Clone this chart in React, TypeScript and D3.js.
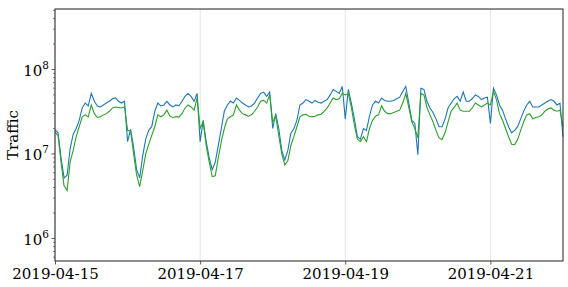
import React, { useEffect, useRef } from "react";
import * as d3 from "d3";

// hourly samples, 2019-04-15 00:00 .. 2019-04-22 00:00 (UTC), values in millions
const startTime = Date.UTC(2019, 3, 15, 0, 0);

const blueSeries = [
  // 04-15
  19.3, 17.8, 9, 5.2, 5.6, 11.5, 17, 20, 25, 35, 40, 37, 52, 42, 37, 36, 38, 40, 42, 45, 46, 42, 40, 42,
  // 04-16
  14, 19.5, 12, 6.5, 5.2, 9.5, 15, 19, 21, 32, 40, 37, 38, 42, 38, 36, 38, 37, 42, 48, 52, 48, 42, 52,
  // 04-17
  14, 25, 14, 9, 6.5, 8, 12.6, 20, 32, 38, 42, 40, 46, 43, 40, 38, 36, 37, 40, 46, 52, 54, 48, 54,
  // 04-18
  20, 30, 20, 11, 8.5, 11, 17.5, 20, 25, 38, 40, 44, 42, 40, 43, 41, 40, 42, 44, 50, 58, 55, 52, 63,
  // 04-19
  26, 58, 40, 26, 16, 15, 20, 19, 28, 38, 42, 40, 46, 43, 42, 42, 43, 45, 47, 55, 63, 40, 25, 23,
  // 04-20
  9.8, 60, 58, 42, 35, 31, 26, 21, 21, 26, 35, 40, 45, 48, 42, 54, 42, 42, 45, 50, 48, 44, 46, 47,
  // 04-21
  23, 60, 50, 38, 33, 26, 21, 17.8, 19, 21, 26, 32, 38, 42, 36, 36, 36, 38, 40, 42, 44, 42, 38, 40,
  16,
];

const greenSeries = [
  // 04-15
  18, 16.6, 8, 4.2, 3.7, 8, 11, 16, 21, 27.5, 29, 27.5, 38, 30, 27, 27.5, 29, 30, 32, 35, 36, 35.5, 35, 36,
  // 04-16
  19, 18.6, 10, 5.6, 4.1, 6.3, 10, 13, 16.6, 21, 29, 27.5, 29, 33, 28, 27, 27.5, 27.5, 30, 35, 38, 36, 33, 46,
  // 04-17
  20, 24, 12.6, 8, 5.4, 5.5, 9, 14, 20, 26, 27.5, 29, 38, 33, 30, 29, 28, 29, 32, 36, 42, 43, 40, 50,
  // 04-18
  24, 28, 16.6, 10, 7.4, 8.3, 12.6, 16, 21, 27.5, 29, 29.5, 28, 27.5, 28, 29, 29.5, 32, 35, 40, 46, 44, 45, 52,
  // 04-19
  50, 52, 35.5, 22, 15, 14, 16, 14, 20, 25, 28, 29, 37, 32, 30, 30, 31, 32, 33, 40, 52, 35.5, 24, 20,
  // 04-20
  15.5, 52, 50, 35.5, 29, 24, 19, 15.5, 14.8, 17.8, 24, 32, 35.5, 40, 33, 32, 32, 32, 35, 40, 38, 36, 38, 40,
  // 04-21
  38, 55, 44, 30, 25, 20, 16, 13, 12.9, 14.8, 19, 24, 29, 30, 26, 27, 27.5, 29, 32, 34, 35, 33, 32, 33,
  21,
];

const xTickDates = ["2019-04-15", "2019-04-17", "2019-04-19", "2019-04-21"];
const yTickExponents = [6, 7, 8];

const W = 568;
const H = 287;
const margin = { left: 55, right: 5, top: 9, bottom: 26 };
const FONT = "'DejaVu Serif', serif";

const App: React.FC = () => {
  const svgRef = useRef<SVGSVGElement | null>(null);

  useEffect(() => {
    if (!svgRef.current) return;
    const svg = d3.select(svgRef.current);
    svg.selectAll("*").remove();

    const x = d3
      .scaleUtc()
      .domain([new Date(startTime), new Date(Date.UTC(2019, 3, 22, 0, 0))])
      .range([margin.left, W - margin.right]);
    const y = d3
      .scaleLog()
      .domain([5.4e5, 5.2e8])
      .range([H - margin.bottom, margin.top]);

    const toPoints = (vals: number[]) =>
      vals.map((v, i) => ({ t: new Date(startTime + i * 3600 * 1000), v: v * 1e6 }));

    // vertical grid
    const tickDates = xTickDates.map((s) => new Date(s + "T00:00:00Z"));
    svg
      .append("g")
      .selectAll("line")
      .data(tickDates)
      .enter()
      .append("line")
      .attr("x1", (d) => x(d))
      .attr("x2", (d) => x(d))
      .attr("y1", margin.top)
      .attr("y2", H - margin.bottom)
      .attr("stroke", "#dcdcdc")
      .attr("stroke-width", 0.8);

    const line = d3
      .line<{ t: Date; v: number }>()
      .x((d) => x(d.t))
      .y((d) => y(d.v));

    svg
      .append("path")
      .datum(toPoints(blueSeries))
      .attr("fill", "none")
      .attr("stroke", "#1f77b4")
      .attr("stroke-width", 1.1)
      .attr("d", line);

    svg
      .append("path")
      .datum(toPoints(greenSeries))
      .attr("fill", "none")
      .attr("stroke", "#2ca02c")
      .attr("stroke-width", 1.1)
      .attr("d", line);

    // frame
    svg
      .append("rect")
      .attr("x", margin.left)
      .attr("y", margin.top)
      .attr("width", W - margin.left - margin.right)
      .attr("height", H - margin.top - margin.bottom)
      .attr("fill", "none")
      .attr("stroke", "#333")
      .attr("stroke-width", 1.1);

    // x axis
    const xAxis = d3
      .axisBottom(x)
      .tickValues(tickDates)
      .tickSize(3.5)
      .tickPadding(3.5)
      .tickFormat((d) => d3.utcFormat("%Y-%m-%d")(d as Date));
    const gx = svg
      .append("g")
      .attr("transform", `translate(0,${H - margin.bottom})`)
      .call(xAxis);
    gx.select(".domain").remove();
    gx.selectAll(".tick line").attr("stroke", "#333").attr("stroke-width", 0.8);
    gx.selectAll(".tick text")
      .attr("fill", "#000")
      .style("font-family", FONT)
      .style("font-size", "15px");

    // y axis minor ticks
    const minor: number[] = [];
    for (let e = 5; e <= 8; e++) {
      for (let m = 2; m <= 9; m++) {
        const v = m * Math.pow(10, e);
        if (v >= 5.4e5 && v <= 5.2e8) minor.push(v);
      }
    }
    svg
      .append("g")
      .selectAll("line")
      .data(minor)
      .enter()
      .append("line")
      .attr("x1", margin.left - 2)
      .attr("x2", margin.left)
      .attr("y1", (d) => y(d))
      .attr("y2", (d) => y(d))
      .attr("stroke", "#333")
      .attr("stroke-width", 0.6);

    const major = svg.append("g");
    major
      .selectAll("line")
      .data(yTickExponents)
      .enter()
      .append("line")
      .attr("x1", margin.left - 3.5)
      .attr("x2", margin.left)
      .attr("y1", (d) => y(Math.pow(10, d)))
      .attr("y2", (d) => y(Math.pow(10, d)))
      .attr("stroke", "#333")
      .attr("stroke-width", 0.8);

    const lbl = major
      .selectAll("text")
      .data(yTickExponents)
      .enter()
      .append("text")
      .attr("x", margin.left - 6)
      .attr("y", (d) => y(Math.pow(10, d)) + 6.5)
      .attr("text-anchor", "end")
      .style("font-family", FONT)
      .style("font-size", "15px")
      .attr("fill", "#000");
    lbl.append("tspan").text("10");
    lbl
      .append("tspan")
      .attr("dy", -7)
      .style("font-size", "10.5px")
      .text((d) => String(d));

    svg
      .append("text")
      .attr("transform", `translate(18,${(margin.top + H - margin.bottom) / 2}) rotate(-90)`)
      .attr("text-anchor", "middle")
      .style("font-family", FONT)
      .style("font-size", "15px")
      .attr("fill", "#000")
      .text("Traffic");
  }, []);

  return (
    <svg
      ref={svgRef}
      width={W}
      height={H}
      style={{ position: "absolute", left: 0, top: 0, background: "#fff" }}
    />
  );
};

export default App;
